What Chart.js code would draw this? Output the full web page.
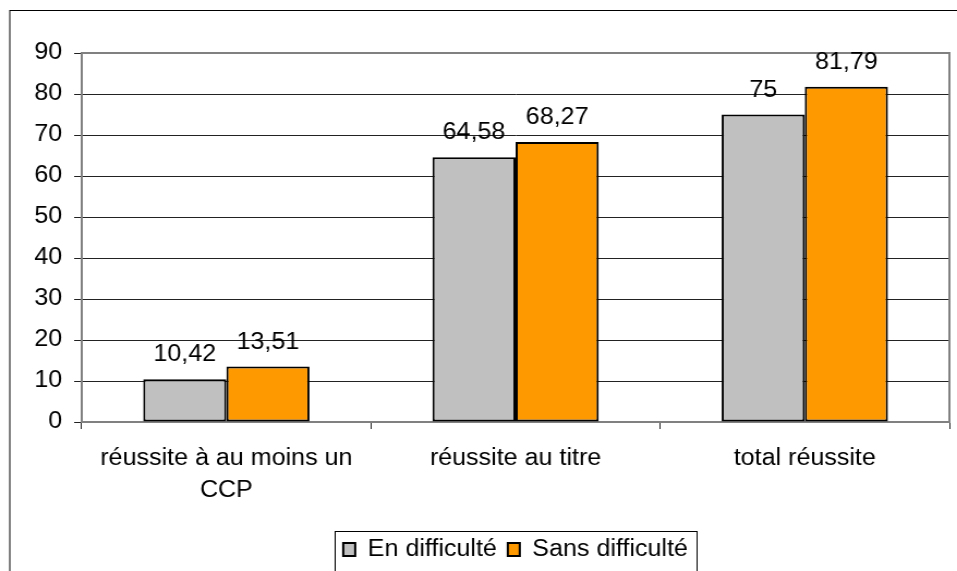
<!DOCTYPE html>
<html>
<head>
<meta charset="utf-8">
<script src="https://cdn.jsdelivr.net/npm/chart.js@4/dist/chart.umd.min.js"></script>
<style>
  html, body { margin: 0; padding: 0; background: #fff; overflow: hidden; }
  #wrap { width: 957px; height: 571px; overflow: hidden; }
  #c { display: block; width: 878px; height: 571px; transform: scaleX(1.0900); transform-origin: 0 0; }
</style>
</head>
<body>
<div id="wrap"><canvas id="c" width="878" height="571"></canvas></div>
<script>
const categories = [["réussite à au moins un", "CCP"], "réussite au titre", "total réussite"];
const seriesNames = ["En difficulté", "Sans difficulté"];
const enDifficulte = [10.42, 64.58, 75];
const sansDifficulte = [13.51, 68.27, 81.79];
const yTicks = [0, 10, 20, 30, 40, 50, 60, 70, 80, 90];

const FONT = "'Liberation Sans', Arial, sans-serif";
const FS = 23;

const framePlugin = {
  id: 'frame',
  beforeDraw(chart) {
    const ctx = chart.ctx;
    ctx.save();
    ctx.fillStyle = '#fff';
    ctx.fillRect(0, 0, chart.width, chart.height);
    ctx.restore();
  },
  beforeDatasetsDraw(chart) {
    const ctx = chart.ctx;
    const a = chart.chartArea;
    ctx.save();
    // plot area top and right border
    ctx.strokeStyle = '#808080';
    ctx.lineWidth = 2;
    ctx.beginPath();
    ctx.moveTo(a.left, a.top);
    ctx.lineTo(a.right, a.top);
    ctx.lineTo(a.right, a.bottom);
    ctx.stroke();
    ctx.restore();
  },
  afterDraw(chart) {
    const ctx = chart.ctx;
    ctx.save();
    // outer chart border (right/bottom fall outside the picture)
    ctx.strokeStyle = '#000';
    ctx.lineWidth = 1;
    ctx.strokeRect(9, 10.5, chart.width + 20, chart.height + 20);
    // legend border
    const lg = chart.legend;
    if (lg && lg.legendHitBoxes && lg.legendHitBoxes.length) {
      const hb = lg.legendHitBoxes;
      const first = hb[0], last = hb[hb.length - 1];
      const left = Math.round(first.left - 8) + 0.5;
      const right = Math.round(last.left + last.width + 8) + 0.5;
      const top = Math.round(first.top - 7) + 0.5;
      ctx.strokeStyle = '#000';
      ctx.lineWidth = 1;
      ctx.strokeRect(left, top, right - left, chart.height + 20 - top);
    }
    ctx.restore();
  }
};

const labelPlugin = {
  id: 'valueLabels',
  afterDatasetsDraw(chart) {
    const ctx = chart.ctx;
    ctx.save();
    ctx.font = FS + 'px ' + FONT;
    ctx.fillStyle = '#000';
    ctx.textAlign = 'center';
    ctx.textBaseline = 'alphabetic';
    chart.data.datasets.forEach((ds, di) => {
      const meta = chart.getDatasetMeta(di);
      meta.data.forEach((bar, i) => {
        const txt = String(ds.data[i]).replace('.', ',');
        ctx.fillText(txt, bar.x, bar.y - 18);
      });
    });
    ctx.restore();
  }
};

new Chart(document.getElementById('c'), {
  type: 'bar',
  data: {
    labels: categories,
    datasets: [
      { label: seriesNames[0], data: enDifficulte, backgroundColor: '#C0C0C0', borderColor: '#000', borderWidth: 2, borderSkipped: false },
      { label: seriesNames[1], data: sansDifficulte, backgroundColor: '#FF9900', borderColor: '#000', borderWidth: 2, borderSkipped: false }
    ]
  },
  options: {
    responsive: false,
    animation: false,
    devicePixelRatio: 1,
    layout: { padding: { top: 53, left: 0, right: 7, bottom: 0 } },
    datasets: { bar: { categoryPercentage: 0.575, barPercentage: 1 } },
    plugins: {
      legend: {
        position: 'bottom',
        fullSize: false,
        labels: {
          font: { family: FONT, size: FS },
          color: '#000',
          boxWidth: 11,
          boxHeight: 13,
          padding: 10
        }
      },
      tooltip: { enabled: false }
    },
    scales: {
      x: {
        grid: { display: true, drawOnChartArea: false, drawTicks: true, tickLength: 7, offset: true, color: '#222', lineWidth: 1 },
        border: { display: true, color: '#808080', width: 2 },
        ticks: { font: { family: FONT, size: FS, lineHeight: 1.39 }, color: '#000', padding: 14, maxRotation: 0, autoSkip: false },
        afterFit(scale) { scale.height = 106; }
      },
      y: {
        min: yTicks[0],
        max: yTicks[yTicks.length - 1],
        afterBuildTicks(scale) { scale.ticks = yTicks.map(v => ({ value: v })); },
        grid: { color: '#222', lineWidth: 1, tickLength: 7, drawTicks: true },
        border: { display: true, color: '#808080', width: 2 },
        ticks: { font: { family: FONT, size: FS }, color: '#000', padding: 11 },
        afterFit(scale) { scale.width = 75; }
      }
    }
  },
  plugins: [framePlugin, labelPlugin]
});
</script>
</body>
</html>
